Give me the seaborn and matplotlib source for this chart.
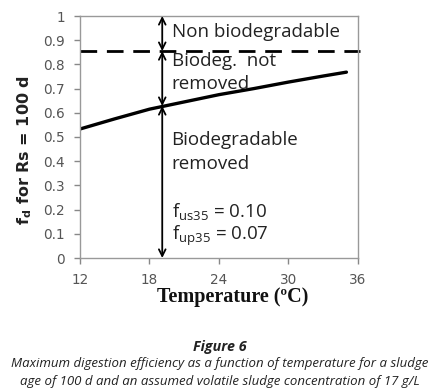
import matplotlib
matplotlib.use("Agg")
import matplotlib.pyplot as plt
import seaborn as sns
import pandas as pd

# Data
temperature = [12, 15, 18, 21, 24, 27, 30, 33, 35]
fd_values = [0.533, 0.575, 0.615, 0.645, 0.675, 0.700, 0.727, 0.752, 0.768]
nonbio_limit = 0.855
arrow_temp = 19.1
arrow_fd = 0.628
x_ticks = [12, 18, 24, 30, 36]
y_ticks = [0, 0.1, 0.2, 0.3, 0.4, 0.5, 0.6, 0.7, 0.8, 0.9, 1]
y_tick_labels = ["0", "0.1", "0.2", "0.3", "0.4", "0.5", "0.6", "0.7", "0.8", "0.9", "1"]

sns.set_theme(style="white")
plt.rcParams["font.family"] = ["DejaVu Sans"]

fig = plt.figure(figsize=(4.43, 3.92), dpi=100)
ax = fig.add_axes([80/443, 1-258/392, 278/443, 242/392])

df = pd.DataFrame({"T": temperature, "fd": fd_values})
sns.lineplot(data=df, x="T", y="fd", ax=ax, color="black", linewidth=2.4)
ax.plot([12, 36.2], [nonbio_limit, nonbio_limit], color="black", lw=2.0,
        dashes=(6, 3.5), clip_on=False)

ax.set_xlim(12, 36)
ax.set_ylim(0, 1)
ax.set_xticks(x_ticks)
ax.set_yticks(y_ticks)
ax.set_yticklabels(y_tick_labels)
ax.tick_params(axis="both", labelsize=9.8, labelcolor="#555555", colors="#888888",
               direction="out", length=4, width=1, bottom=True, left=True)
ax.tick_params(axis="y", pad=7)
ax.tick_params(axis="x", pad=7)
for s in ax.spines.values():
    s.set_color("#999999")
    s.set_linewidth(1)

# double arrows
aprops = dict(arrowstyle="<->", color="black", lw=1.3, shrinkA=0, shrinkB=0,
              mutation_scale=12)
ax.annotate("", xy=(arrow_temp, 1.0), xytext=(arrow_temp, nonbio_limit), arrowprops=aprops)
ax.annotate("", xy=(arrow_temp, nonbio_limit), xytext=(arrow_temp, arrow_fd), arrowprops=aprops)
ax.annotate("", xy=(arrow_temp, arrow_fd), xytext=(arrow_temp, 0.0), arrowprops=aprops)

tfont = dict(family="Open Sans", fontsize=13.5, color="#222222")
ax.text(19.9, 0.932, "Non biodegradable", va="center", ha="left", **tfont)
ax.text(19.9, 0.812, "Biodeg.  not", va="center", ha="left", **tfont)
ax.text(19.9, 0.718, "removed", va="center", ha="left", **tfont)
ax.text(19.9, 0.488, "Biodegradable", va="center", ha="left", **tfont)
ax.text(19.9, 0.388, "removed", va="center", ha="left", **tfont)
ax.text(19.9, 0.19, r"f$_{\mathregular{us35}}$ = 0.10", va="center", ha="left", **tfont)
ax.text(19.9, 0.09, r"f$_{\mathregular{up35}}$ = 0.07", va="center", ha="left", **tfont)

ax.set_xlabel("")
ax.set_ylabel("")
fig.text(25/443, 1-150/392, r"f$_{\mathbf{d}}$ for Rs = 100 d", rotation=90,
         ha="center", va="center", fontsize=11.5, fontweight="bold",
         family="DejaVu Sans", color="#222222")
fig.text(233/443, 1-297/392, "Temperature (ºC)", ha="center", va="center",
         fontsize=14.5, fontweight="bold", family="Liberation Serif", color="#111111")

fig.text(220/443, 1-347/392, "Figure 6", ha="center", va="center",
         fontsize=10.3, fontweight="bold", style="italic", family="Open Sans", color="#222222")
fig.text(220/443, 1-364/392,
         "Maximum digestion efficiency as a function of temperature for a sludge",
         ha="center", va="center", fontsize=9.55, style="italic", family="Open Sans", color="#222222")
fig.text(220/443, 1-381/392,
         "age of 100 d and an assumed volatile sludge concentration of 17 g/L",
         ha="center", va="center", fontsize=9.55, style="italic", family="Open Sans", color="#222222")

fig.savefig("out.png", dpi=100)
